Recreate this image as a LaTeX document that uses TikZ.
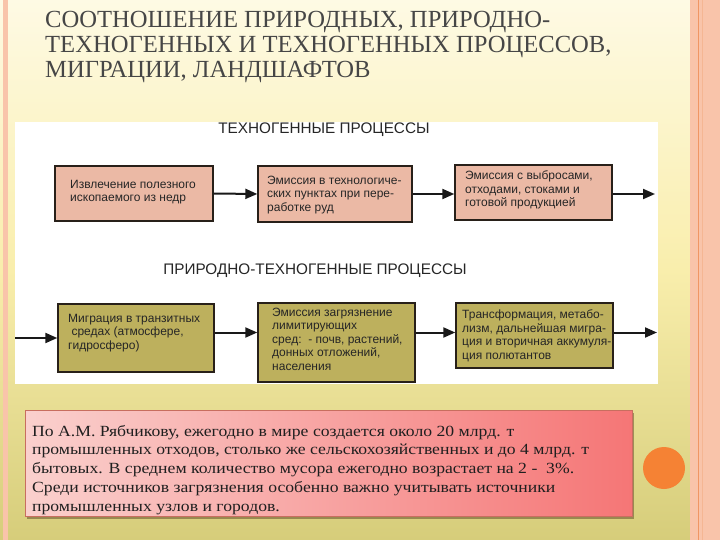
\documentclass[tikz,border=0pt]{standalone}
\usepackage{fontspec}
\setmainfont{Liberation Serif}
\newfontfamily\arialf{Liberation Sans}
\newfontfamily\widef[FakeStretch=1.14]{Liberation Serif}
\usetikzlibrary{arrows.meta,shadows}
\definecolor{bgtop}{RGB}{254,250,228}
\definecolor{bgmid}{RGB}{249,238,172}
\definecolor{bgbot}{RGB}{214,205,122}
\definecolor{peach}{RGB}{249,196,170}
\definecolor{peachline}{RGB}{240,150,100}
\definecolor{salmonfill}{RGB}{235,185,165}
\definecolor{olivefill}{RGB}{189,176,93}
\definecolor{boxline}{RGB}{40,32,25}
\definecolor{titlegray}{RGB}{70,70,70}
\definecolor{boxtext}{RGB}{38,38,38}
\definecolor{pinkleft}{RGB}{250,208,205}
\definecolor{pinkright}{RGB}{245,118,118}
\definecolor{tboxline}{RGB}{200,110,95}
\definecolor{circorange}{RGB}{245,130,52}
\begin{document}
\begin{tikzpicture}[x=1pt,y=-1pt,
  procbox/.style={draw=boxline, line width=1.4pt, inner sep=0pt},
  boxlabel/.style={anchor=west, align=left, inner sep=0pt, text=boxtext,
     font=\arialf\fontsize{12}{13.5}\selectfont},
  headlabel/.style={inner sep=0pt, text=boxtext, font=\arialf\fontsize{15.3}{17}\selectfont},
  arr/.style={line width=2pt, draw=black!90, -{Triangle[length=12pt,width=10pt]}}
]
\useasboundingbox (0,0) rectangle (720,540);
% background
\shade[top color=bgtop, bottom color=bgbot, middle color=bgmid] (0,0) rectangle (720,540);
\fill[peach] (3,0) rectangle (8,540);
\fill[peach] (690,0) rectangle (720,540);
\draw[peachline, line width=1pt] (698,0) -- (698,540);
\draw[peachline!70, line width=0.8pt] (702,0) -- (702,540);
% title
\node[anchor=north west, align=left, inner sep=0pt, text=titlegray,
  font=\fontsize{24.6}{25}\selectfont] (title) at (45,11)
  {СООТНОШЕНИЕ ПРИРОДНЫХ, ПРИРОДНО-\\ТЕХНОГЕННЫХ И ТЕХНОГЕННЫХ ПРОЦЕССОВ,\\МИГРАЦИИ, ЛАНДШАФТОВ};
% white panel
\fill[white] (15,122) rectangle (658,384);
\node[headlabel] (h1) at (324,130) {ТЕХНОГЕННЫЕ ПРОЦЕССЫ};
\node[headlabel] (h2) at (315,271) {ПРИРОДНО-ТЕХНОГЕННЫЕ ПРОЦЕССЫ};
% row 1
\node[procbox, fill=salmonfill, minimum width=158pt, minimum height=55pt] (b1) at (134,193.5) {};
\node[procbox, fill=salmonfill, minimum width=154pt, minimum height=56pt] (b2) at (335,194) {};
\node[procbox, fill=salmonfill, minimum width=157pt, minimum height=55pt] (b3) at (533.5,192.5) {};
\node[boxlabel] (t1) at (70,192) {Извлечение полезного\\ископаемого из недр};
\node[boxlabel] (t2) at (267,195) {Эмиссия в технологиче-\\ских пунктах при пере-\\работке руд};
\node[boxlabel] (t3) at (465,190) {Эмиссия с выбросами,\\отходами, стоками и\\готовой продукцией};
% row 2
\node[procbox, fill=olivefill, minimum width=156pt, minimum height=68pt] (b4) at (136,338) {};
\node[procbox, fill=olivefill, minimum width=157pt, minimum height=79pt] (b5) at (336.5,342.5) {};
\node[procbox, fill=olivefill, minimum width=157pt, minimum height=65pt] (b6) at (534.5,335.5) {};
\node[boxlabel] (t4) at (68,333) {Миграция в транзитных\\\ средах (атмосфере,\\гидросферо)};
\node[boxlabel] (t5) at (272,339) {Эмиссия загрязнение\\лимитирующих\\сред:\ \ - почв, растений,\\донных отложений,\\населения};
\node[boxlabel] (t6) at (462,336) {Трансформация, метабо-\\лизм, дальнейшая мигра-\\ция и вторичная аккумуля-\\ция полютантов};
% connectors
\coordinate (out1) at (655,194);
\coordinate (in2) at (15,338);
\coordinate (r2) at (0,332.5);
\coordinate (out2) at (657,332.5);
\draw[arr] (b1.east) -- (b2.west);
\draw[arr] (b2.east) -- (b2.east -| b3.west);
\draw[arr] (b2.east -| b3.east) -- (out1);
\draw[arr] (in2) -- (b4.west);
\draw[arr] (b4.east |- r2) -- (b5.west |- r2);
\draw[arr] (b5.east |- r2) -- (b6.west |- r2);
\draw[arr] (b6.east |- r2) -- (out2);
% text box
\node[draw=tboxline, line width=0.8pt, left color=pinkleft, right color=pinkright,
  minimum width=607pt, minimum height=106pt, inner sep=0pt,
  drop shadow={shadow xshift=2pt, shadow yshift=-3pt, opacity=0.45, fill=black!60!brown}] (tb) at (328.5,463) {};
\node[anchor=north west, align=left, inner sep=0pt, text=black!88,
  font=\widef\fontsize{15.5}{18.7}\selectfont] (tbtext) at (32,425)
  {По А.М. Рябчикову, ежегодно в мире создается около 20 млрд. т\\промышленных отходов, столько же сельскохозяйственных и до 4 млрд. т\\бытовых. В среднем количество мусора ежегодно возрастает на 2 -\ \ 3\%.\\Среди источников загрязнения особенно важно учитывать источники\\промышленных узлов и городов.};
% orange circle
\node[circle, fill=circorange, minimum size=42pt, inner sep=0pt] (dot) at (664,468) {};
\end{tikzpicture}
\end{document}
